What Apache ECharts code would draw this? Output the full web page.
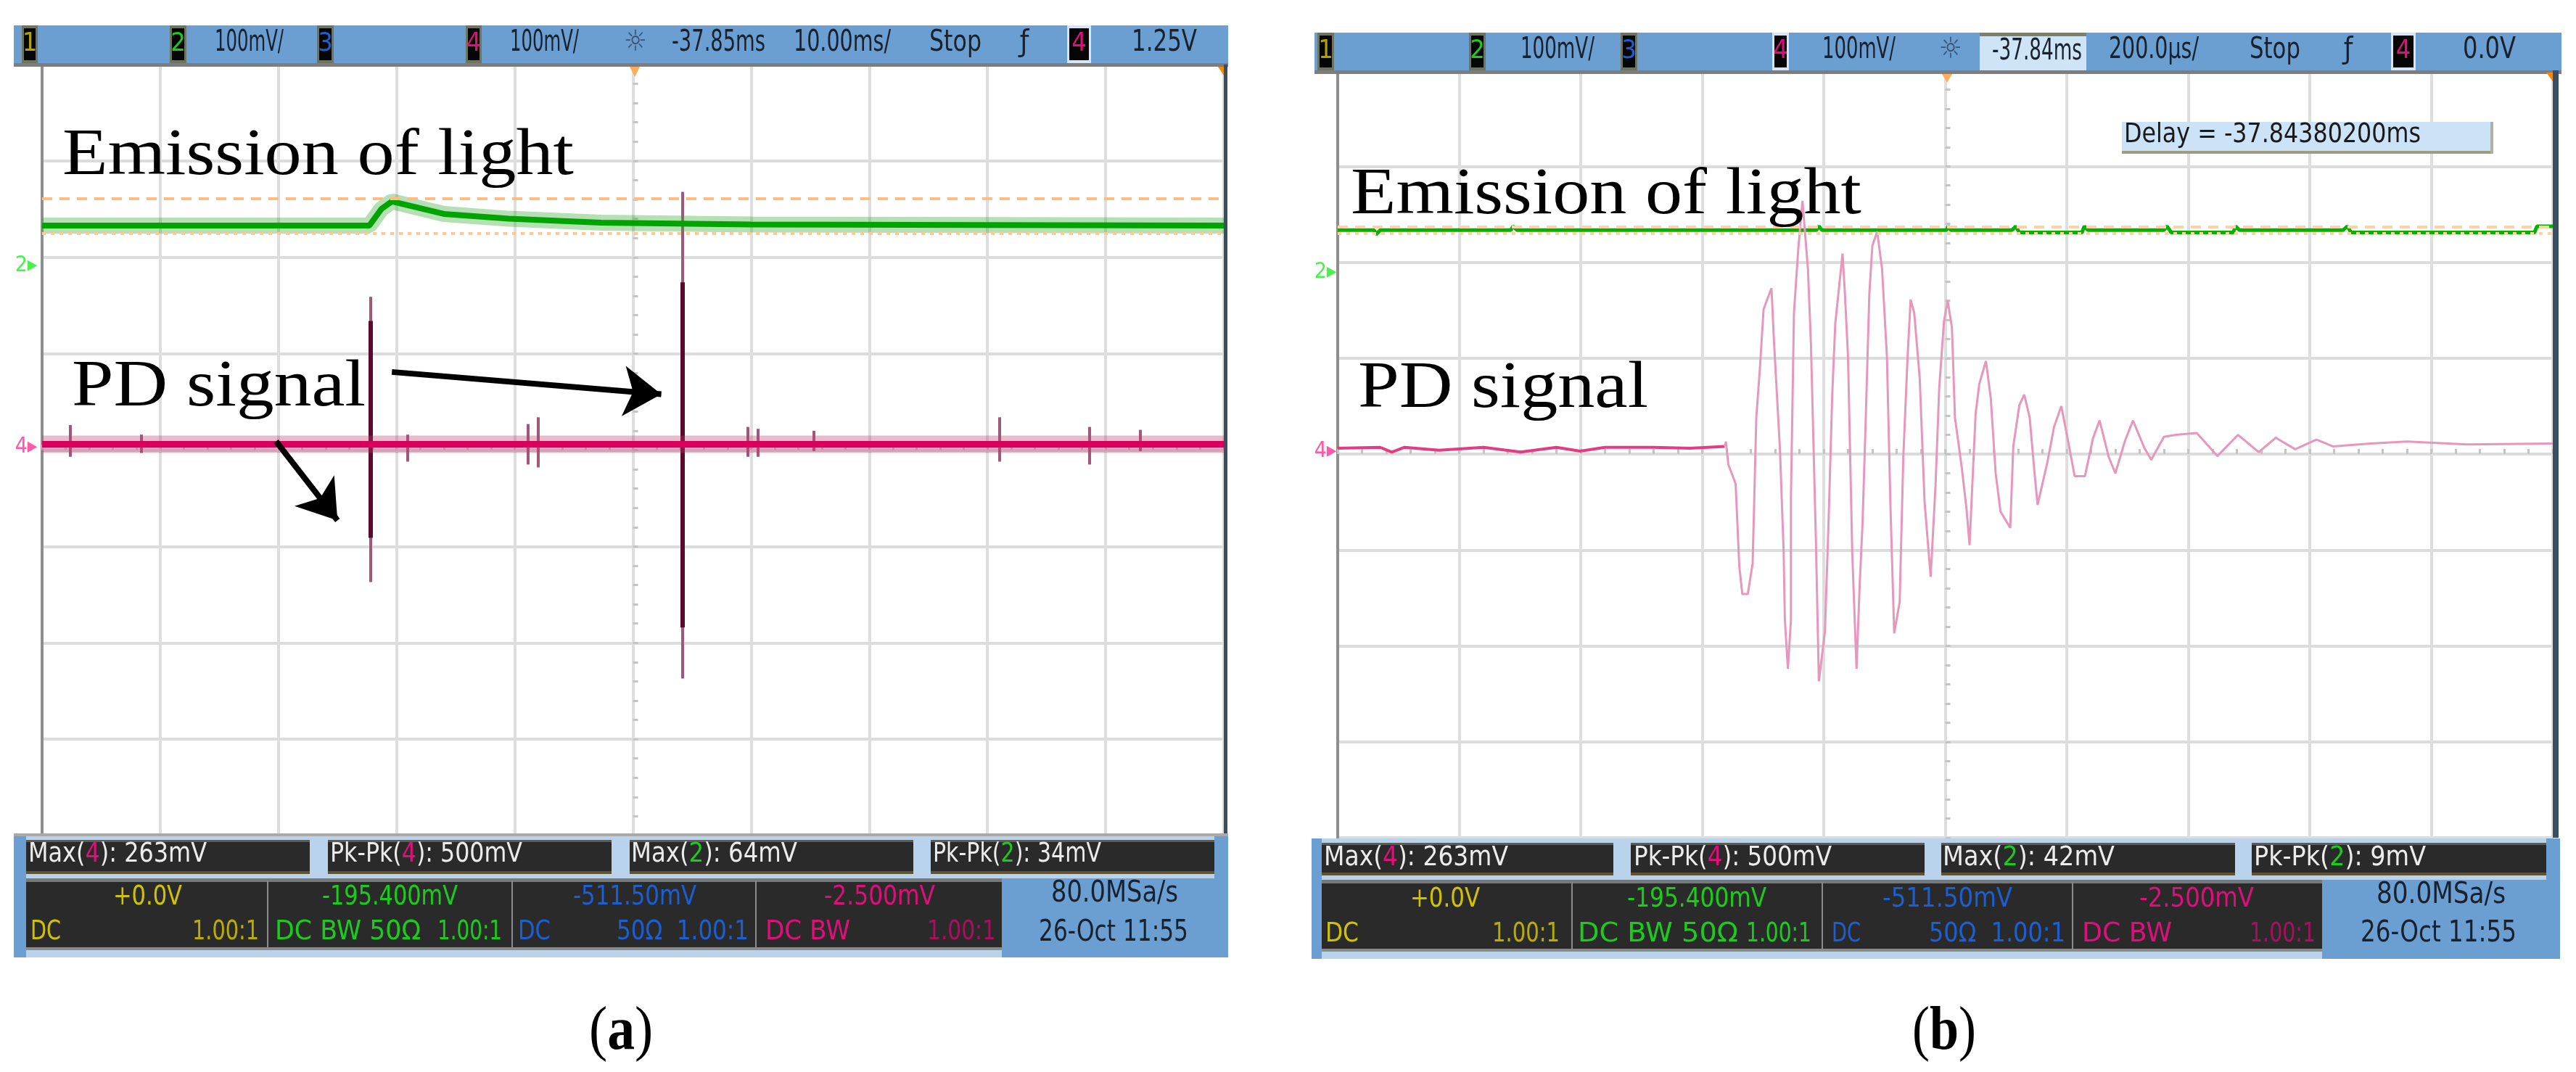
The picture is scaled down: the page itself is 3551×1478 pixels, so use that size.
<!DOCTYPE html>
<html>
<head>
<meta charset="utf-8">
<title>Emission of light / PD signal</title>
<script src="https://cdn.jsdelivr.net/npm/echarts@6/dist/echarts.min.js"></script>
<style>
  html, body { margin: 0; padding: 0; background: #fff; }
  #main { width: 3551px; height: 1478px; }
</style>
</head>
<body>
<div id="main"></div>
<script>
const greenA = [[-50, 233], [-22.3, 233], [-21.3, 250], [-20.4, 258], [-19.4, 255], [-16, 245],
  [-10.5, 240], [-2.7, 236], [10, 234], [50, 233]]
const pdBaseA = [[-50, 6], [50, 6]]
// [time ms, top mV, bottom mV]
const spikesA = [[-47.6, 26, -7], [-41.6, 16, -3], [-22.2, 159, -137], [-19.1, 16, -12], [-8.9, 27, -15],
  [-8.0, 34, -18], [4.2, 268, -237], [9.7, 24, -7], [10.6, 22, -7], [15.3, 20, -1], [31.0, 34, -12],
  [38.6, 24, -15], [42.9, 21, -1]]
const spikeCoresA = [[-22.2, 134, -91], [4.2, 174, -184]]
const thresholdsA = [261, 225]
// [from ms, from mV, to ms, to mV]
const arrowsA = [[-20.4, 81, 2.4, 58], [-30.2, 9, -25.0, -73]]

// ---------- panel (b): 200 us/div, 100 mV/div ----------
const greenB = [[-1000, 233.5], [-940, 233.5], [-937, 229], [-930, 233.5], [-715, 233.5], [-711, 237.5],
  [-705, 233.5], [-212, 233.5], [-208, 237.5], [-203, 233.5], [2, 233.5], [5, 237.5], [9, 233.5],
  [110, 233.5], [116, 237.5], [122, 231], [225, 231], [229, 237.5], [235, 233.5], [360, 233.5],
  [365, 237.5], [372, 231], [474, 231], [478, 237.5], [484, 233.5], [655, 233.5], [662, 237.5],
  [668, 231], [970, 231], [974, 237.5], [1000, 237.5]]
const pdPreB = [[-1000, 6], [-930, 7], [-911, 2], [-890, 7], [-833, 4], [-760, 7], [-699, 2], [-640, 7],
  [-601, 3], [-560, 7], [-480, 7], [-420, 6], [-363, 8]]
const pdBurstB = [[-363, 8], [-361, 13], [-357, -11], [-345, -31], [-339, -117], [-334, -146], [-325, -146],
  [-317, -114], [-311, 38], [-305, 90], [-299, 151], [-286, 173], [-282, 119], [-272, 4], [-266, -101],
  [-264, -172], [-259, -224], [-254, -173], [-254, -46], [-249, 147], [-242, 213], [-235, 264], [-226, 193],
  [-221, 114], [-213, -87], [-208, -237], [-198, -185], [-192, -70], [-186, 62], [-181, 136], [-169, 209],
  [-165, 166], [-160, 101], [-153, -104], [-146, -224], [-141, -139], [-136, -70], [-131, 33], [-125, 166],
  [-120, 217], [-112, 232], [-104, 193], [-96, 102], [-90, -58], [-84, -187], [-75, -154], [-69, -3],
  [-62, 101], [-57, 161], [-51, 147], [-42, 79], [-34, -50], [-24, -128], [-16, -33], [-10, 68], [-2, 139],
  [4, 160], [11, 132], [16, 38], [27, -13], [35, -57], [40, -95], [50, 42], [56, 73], [67, 97], [75, 58],
  [83, -20], [91, -60], [107, -77], [112, 8], [122, 51], [130, 62], [139, 38], [147, -20], [152, -53],
  [168, -9], [179, 28], [191, 50], [200, 21], [213, -23], [230, -23], [243, 16], [254, 35], [269, -3],
  [280, -20], [296, 14], [309, 35], [328, 6], [339, -6], [360, 18], [380, 20], [414, 22], [448, -2],
  [482, 20], [516, 2], [544, 17], [576, 5], [611, 15], [638, 8], [700, 11], [760, 13], [860, 10], [1000, 11]]
const thresholdsB = [237, 230]

// ---------- helpers for the scope bezel ----------
const NARROW = '"Liberation Sans Narrow", "DejaVu Sans Condensed", "Liberation Sans", sans-serif'
const SERIF = '"Liberation Serif", "DejaVu Serif", serif'
const measureCtx = document.createElement("canvas").getContext("2d")
function fit(text, font, width) {
  measureCtx.font = font
  return width / measureCtx.measureText(text).width
}

const deco = []
function rect(x, y, w, h, fill, z) {
  deco.push({ type: "rect", silent: true, z: z || 50, shape: { x, y, width: w, height: h }, style: { fill } })
}
function poly(points, fill) {
  deco.push({ type: "polygon", silent: true, z: 60, shape: { points }, style: { fill } })
}
function txt(text, x0, x1, y, color, size, family) {
  const font = size + "px " + (family || NARROW)
  deco.push({
    type: "text", silent: true, z: 120, x: x0, y: y,
    scaleX: fit(text, font, x1 - x0),
    style: { text, font, fill: color, align: "left", verticalAlign: "middle" },
  })
}
function ctxt(text, cx, y, color, size) {
  deco.push({
    type: "text", silent: true, z: 120, x: cx, y: y,
    style: { text, font: size + "px " + NARROW, fill: color, align: "center", verticalAlign: "middle" },
  })
}
function meas(pre, n, post, x0, x1, y, nColor) {
  const font = "38px " + NARROW
  deco.push({
    type: "text", silent: true, z: 120, x: x0, y: y,
    scaleX: fit(pre + n + post, font, x1 - x0),
    style: {
      text: pre + "{n|" + n + "}" + post, font, fill: "#ececec", align: "left", verticalAlign: "middle",
      rich: { n: { font, fill: nColor } },
    },
  })
}
function chanBox(x0, x1, y, d, color, cap) {
  rect(x0, y, x1 - x0, 52, cap)
  rect(x0 + 3, y + 4, x1 - x0 - 6, 44, "#060606", 51)
  ctxt(d, (x0 + x1) / 2, y + 26, color, 36)
}

const YEL = "#cfc300", GRN = "#1ccc1c", BLU = "#1b5fd2", MAG = "#dc1078", BAR = "#6b9fd2", INK = "#18222e"

// ---------- panel (a) bezel ----------
rect(19, 35, 1674, 52, BAR)
rect(19, 87, 1674, 5, "#7d7d7d")
chanBox(30, 52, 35, "1", "#b0a200", "#6d7460")
chanBox(234, 257, 35, "2", GRN, "#6d7460")
txt("100mV/", 296, 391, 60, INK, 40)
chanBox(437, 460, 35, "3", BLU, "#6d7460")
chanBox(642, 664, 35, "4", MAG, "#6d7460")
txt("100mV/", 703, 798, 60, INK, 40)
ctxt("☼", 876, 60, "#3c5272", 40)
txt("-37.85ms", 926, 1055, 60, INK, 40)
txt("10.00ms/", 1094, 1228, 60, INK, 40)
txt("Stop", 1281, 1353, 60, INK, 40)
ctxt("ƒ", 1412, 60, INK, 40)
chanBox(1471, 1504, 35, "4", MAG, "#d6e6f6")
txt("1.25V", 1560, 1650, 60, INK, 40)
poly([[868, 92], [882, 92], [875, 106]], "#ffad60")
poly([[1679, 92], [1687, 92], [1687, 104]], "#f08a10")
rect(1687, 89, 5, 1063, "#3b4d61")
rect(19, 1149, 1674, 4, "#a9a9a9")
ctxt("2▸", 36, 366, "#4cf04c", 30)
ctxt("4▸", 36, 616, "#ff5aa8", 30)

rect(19, 1153, 1674, 167, BAR)
rect(36, 1153, 1638, 58, "#b9d3ec")
rect(36, 1211, 1345, 109, "#b9d3ec")
;[[36, 427], [452, 843], [868, 1259], [1283, 1674]].forEach(b => {
  rect(b[0], 1158, b[1] - b[0], 47, "#2a2a2a")
  rect(b[0], 1158, b[1] - b[0], 3, "#5c5c5c", 52)
  rect(b[0], 1201, b[1] - b[0], 4, "#5e5434", 52)
})
meas("Max(", "4", "): 263mV", 39, 285, 1178, MAG)
meas("Pk-Pk(", "4", "): 500mV", 455, 720, 1178, MAG)
meas("Max(", "2", "): 64mV", 870, 1099, 1178, GRN)
meas("Pk-Pk(", "2", "): 34mV", 1286, 1518, 1178, GRN)
rect(36, 1211, 1345, 99, "#2a2a2a")
rect(36, 1211, 1345, 5, "#787878", 52)
rect(36, 1306, 1345, 4, "#8a8a8a", 52)
;[368, 705, 1041].forEach(x => rect(x, 1214, 2, 93, "#8a8a8a", 52))
txt("+0.0V", 156, 251, 1237, YEL, 38)
txt("-195.400mV", 444, 631, 1237, GRN, 38)
txt("-511.50mV", 790, 960, 1237, BLU, 38)
txt("-2.500mV", 1136, 1289, 1237, MAG, 38)
txt("DC", 42, 84, 1285, YEL, 38)
txt("1.00:1", 265, 357, 1285, "#b8ae00", 38)
txt("DC BW 50Ω", 379, 580, 1285, GRN, 38)
txt("1.00:1", 603, 692, 1285, GRN, 38)
txt("DC", 714, 759, 1285, BLU, 38)
txt("50Ω  1.00:1", 850, 1032, 1285, BLU, 38)
txt("DC BW", 1055, 1172, 1285, MAG, 38)
txt("1.00:1", 1278, 1373, 1285, "#a8105e", 38)
txt("80.0MSa/s", 1449, 1624, 1233, INK, 40)
txt("26-Oct 11:55", 1432, 1638, 1287, INK, 40)

// ---------- panel (b) bezel ----------
rect(1812, 45, 1719, 52, BAR)
rect(1812, 97, 1719, 5, "#7d7d7d")
chanBox(1816, 1839, 45, "1", "#b0a200", "#6d7460")
chanBox(2025, 2048, 45, "2", GRN, "#6d7460")
txt("100mV/", 2096, 2198, 70, INK, 40)
chanBox(2234, 2257, 45, "3", BLU, "#6d7460")
chanBox(2443, 2466, 45, "4", MAG, "#d6e6f6")
txt("100mV/", 2512, 2613, 70, INK, 40)
ctxt("☼", 2689, 70, "#3c5272", 40)
rect(2729, 45, 147, 52, "#cfe4f7")
rect(2729, 45, 147, 5, "#7b806a", 51)
txt("-37.84ms", 2746, 2870, 72, INK, 40)
txt("200.0µs/", 2907, 3031, 70, INK, 40)
txt("Stop", 3101, 3171, 70, INK, 40)
ctxt("ƒ", 3237, 70, INK, 40)
chanBox(3296, 3330, 45, "4", MAG, "#d6e6f6")
txt("0.0V", 3395, 3468, 70, INK, 40)
poly([[2677, 102], [2691, 102], [2684, 114]], "#ffad60")
poly([[3510, 100], [3519, 100], [3519, 112]], "#f08a10")
rect(3519, 97, 8, 1058, "#3b4d61")
ctxt("2▸", 1827, 375, "#4cf04c", 30)
ctxt("4▸", 1827, 622, "#ff5aa8", 30)
rect(2925, 168, 512, 44, "#cce3f7", 60)
rect(2925, 208, 512, 4, "#a39c7c", 61)
rect(3433, 168, 4, 44, "#b0b0a0", 61)
txt("Delay = -37.84380200ms", 2928, 3337, 186, "#1a1a1a", 38)

rect(1808, 1156, 1721, 166, BAR)
rect(1822, 1156, 1688, 57, "#b9d3ec")
rect(1822, 1213, 1379, 109, "#b9d3ec")
;[[1822, 2224], [2248, 2653], [2676, 3081], [3104, 3510]].forEach(b => {
  rect(b[0], 1162, b[1] - b[0], 45, "#2a2a2a")
  rect(b[0], 1162, b[1] - b[0], 3, "#5c5c5c", 52)
  rect(b[0], 1203, b[1] - b[0], 4, "#5e5434", 52)
})
meas("Max(", "4", "): 263mV", 1825, 2079, 1183, MAG)
meas("Pk-Pk(", "4", "): 500mV", 2252, 2525, 1183, MAG)
meas("Max(", "2", "): 42mV", 2678, 2915, 1183, GRN)
meas("Pk-Pk(", "2", "): 9mV", 3107, 3344, 1183, GRN)
rect(1822, 1213, 1379, 99, "#2a2a2a")
rect(1822, 1213, 1379, 5, "#787878", 52)
rect(1822, 1308, 1379, 4, "#8a8a8a", 52)
;[2166, 2511, 2856].forEach(x => rect(x, 1216, 2, 93, "#8a8a8a", 52))
txt("+0.0V", 1944, 2040, 1240, YEL, 38)
txt("-195.400mV", 2243, 2435, 1240, GRN, 38)
txt("-511.50mV", 2595, 2774, 1240, BLU, 38)
txt("-2.500mV", 2949, 3107, 1240, MAG, 38)
txt("DC", 1827, 1873, 1288, YEL, 38)
txt("1.00:1", 2057, 2150, 1288, "#b8ae00", 38)
txt("DC BW 50Ω", 2175, 2396, 1288, GRN, 38)
txt("1.00:1", 2407, 2497, 1288, GRN, 38)
txt("DC", 2525, 2565, 1288, BLU, 38)
txt("50Ω  1.00:1", 2659, 2847, 1288, BLU, 38)
txt("DC BW", 2870, 2994, 1288, MAG, 38)
txt("1.00:1", 3101, 3192, 1288, "#a8105e", 38)
txt("80.0MSa/s", 3276, 3454, 1235, INK, 40)
txt("26-Oct 11:55", 3254, 3469, 1288, INK, 40)

// ---------- annotations ----------
txt("Emission of light", 86, 791, 216, "#000", 92, SERIF)
txt("PD signal", 99, 504, 535, "#000", 92, SERIF)
txt("Emission of light", 1862, 2566, 270, "#000", 92, SERIF)
txt("PD signal", 1872, 2272, 537, "#000", 92, SERIF)

function panelTag(letter, x0, x1) {
  const font = "84px " + SERIF
  deco.push({
    type: "text", silent: true, z: 120, x: x0, y: 1424,
    scaleX: fit("(" + letter + ")", font, x1 - x0),
    style: {
      text: "({b|" + letter + "})", font, fill: "#000", align: "left", verticalAlign: "middle",
      rich: { b: { font: "bold " + font, fill: "#000" } },
    },
  })
}
panelTag("a", 812, 896)
panelTag("b", 2636, 2720)

// ---------- chart ----------
const chart = echarts.init(document.getElementById("main"))

function xAx(grid, min, max, interval) {
  return {
    gridIndex: grid, type: "value", min, max, interval,
    axisLine: { show: false }, axisTick: { show: false }, axisLabel: { show: false },
    splitLine: { show: true, lineStyle: { color: "#dedede", width: 4 } },
  }
}
function yAx(grid) {
  return {
    gridIndex: grid, type: "value", min: -400, max: 400, interval: 100,
    axisLine: { show: true, onZero: false, lineStyle: { color: "#8e8e8e", width: 4 } },
    axisTick: { show: false }, axisLabel: { show: false },
    splitLine: { show: true, lineStyle: { color: "#dcdcdc", width: 4 } },
  }
}
// small graticule ticks along the centre cross
const tickStyle = { color: "#c4c4c4", width: 3 }
function xCentre(grid, min, max, interval) {
  return {
    gridIndex: grid, type: "value", min, max, interval,
    axisLine: { show: false, onZero: true }, axisLabel: { show: false }, splitLine: { show: false },
    axisTick: { show: true, length: 7, lineStyle: tickStyle },
    minorTick: { show: true, splitNumber: 5, length: 7, lineStyle: tickStyle },
  }
}
function yCentre(grid) {
  return {
    gridIndex: grid, type: "value", min: -400, max: 400, interval: 100,
    axisLine: { show: false, onZero: true }, axisLabel: { show: false }, splitLine: { show: false },
    axisTick: { show: true, length: 7, lineStyle: tickStyle },
    minorTick: { show: true, splitNumber: 5, length: 7, lineStyle: tickStyle },
  }
}
function thresholdLines(values, c1, c2) {
  return {
    silent: true, symbol: "none", label: { show: false },
    data: [
      { yAxis: values[0], lineStyle: { color: c1, width: 4, type: [14, 10] } },
      { yAxis: values[1], lineStyle: { color: c2, width: 4, type: [5, 7] } },
    ],
  }
}
const lineBase = { type: "line", showSymbol: false, symbol: "none", silent: true }

const option = {
  animation: false,
  backgroundColor: "#ffffff",
  grid: [
    { left: 58, top: 89, width: 1629, height: 1063, outerBoundsMode: "none" },
    { left: 1844, top: 97, width: 1675, height: 1058, outerBoundsMode: "none" },
  ],
  xAxis: [xAx(0, -50, 50, 10), xAx(1, -1000, 1000, 200), xCentre(0, -50, 50, 10), xCentre(1, -1000, 1000, 200)],
  yAxis: [yAx(0), yAx(1), yCentre(0), yCentre(1)],
  series: [
    // (a) channel 2: emission of light
    { ...lineBase, xAxisIndex: 0, yAxisIndex: 0, data: greenA,
      lineStyle: { color: "rgba(40,165,40,0.35)", width: 22 } },
    { ...lineBase, xAxisIndex: 0, yAxisIndex: 0, data: greenA,
      lineStyle: { color: "#00a300", width: 8 },
      markLine: thresholdLines(thresholdsA, "#ffbe80", "#ffc894") },
    // (a) channel 4: PD signal
    { ...lineBase, xAxisIndex: 0, yAxisIndex: 0, data: pdBaseA,
      lineStyle: { color: "rgba(185,60,110,0.35)", width: 24 } },
    { ...lineBase, xAxisIndex: 0, yAxisIndex: 0, data: pdBaseA,
      lineStyle: { color: "#d6005c", width: 9 } },
    { type: "lines", coordinateSystem: "cartesian2d", xAxisIndex: 0, yAxisIndex: 0, silent: true,
      lineStyle: { color: "#a0587a", width: 4, opacity: 1 },
      data: spikesA.map(s => ({ coords: [[s[0], s[1]], [s[0], s[2]]] })) },
    { type: "lines", coordinateSystem: "cartesian2d", xAxisIndex: 0, yAxisIndex: 0, silent: true,
      lineStyle: { color: "#5c0a2c", width: 6, opacity: 1 },
      data: spikeCoresA.map(s => ({ coords: [[s[0], s[1]], [s[0], s[2]]] })) },
    { type: "lines", coordinateSystem: "cartesian2d", xAxisIndex: 0, yAxisIndex: 0, silent: true, z: 10,
      symbol: ["none", "arrow"], symbolSize: 52,
      lineStyle: { color: "#000", width: 8, opacity: 1 },
      data: arrowsA.map(a => ({ coords: [[a[0], a[1]], [a[2], a[3]]] })) },
    // (b)
    { ...lineBase, xAxisIndex: 1, yAxisIndex: 1, data: greenB,
      lineStyle: { color: "#00b400", width: 5 },
      markLine: thresholdLines(thresholdsB, "#ffd2a6", "#ffd2a6") },
    { ...lineBase, xAxisIndex: 1, yAxisIndex: 1, data: pdPreB,
      lineStyle: { color: "#e23c84", width: 4 } },
    { ...lineBase, xAxisIndex: 1, yAxisIndex: 1, data: pdBurstB,
      lineStyle: { color: "#e697bb", width: 3 } },
  ],
  graphic: { elements: deco },
}

chart.setOption(option)
</script>
</body>
</html>
